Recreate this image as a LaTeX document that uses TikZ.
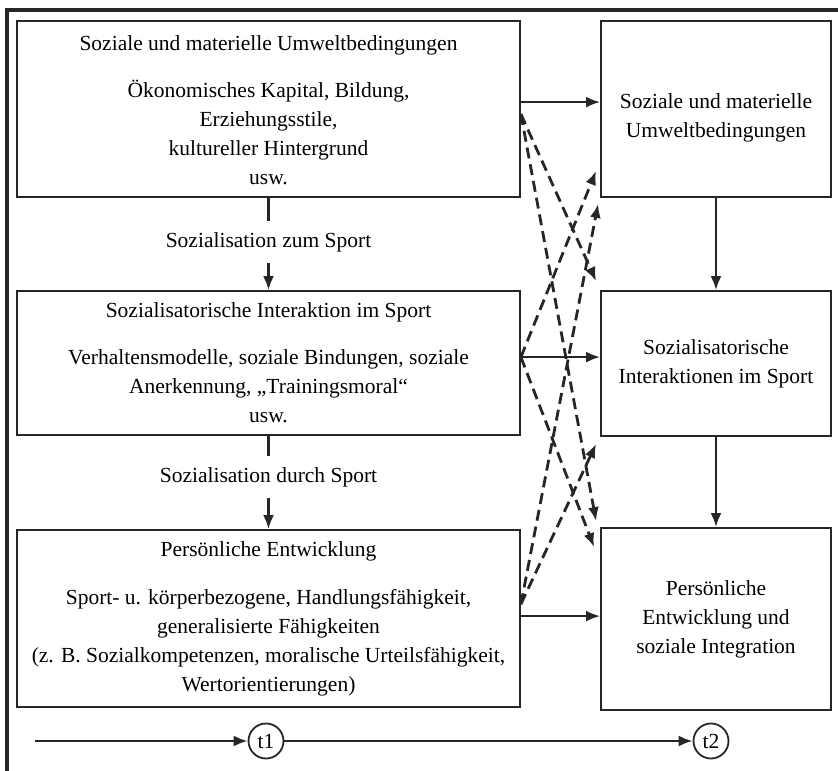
\documentclass[tikz,border=0pt]{standalone}
\usepackage{fontspec}
\setmainfont{Liberation Serif}
\usetikzlibrary{arrows.meta,calc}
\tikzset{
  box/.style={draw=black!85, line width=1.8pt, align=center, inner sep=0pt, fill=none},
  arr/.style={line width=2.5pt, draw=black!85, -{Latex[length=14pt,width=11pt]}},
  plain/.style={line width=2.5pt, draw=black!85},
  dasharr/.style={line width=2.8pt, draw=black!85, dash pattern=on 11pt off 6pt, -{Latex[length=14pt,width=11pt]}},
  lab/.style={inner xsep=2pt, inner ysep=11pt},
  tcirc/.style={circle, draw=black!85, line width=1.8pt, minimum size=35pt, inner sep=0pt}
}
\begin{document}
\begin{tikzpicture}[x=1pt, y=-1pt, font=\fontsize{21.5}{29}\selectfont]
\useasboundingbox (0,0) rectangle (838,771);
\fill[white] (0,0) rectangle (838,771);
% frame
\draw[line width=3.5pt, black!85] (7,771) -- (7,10) -- (838,10);

% left boxes
\node[box, minimum width=503pt, minimum height=176pt] (L1) at (268.5,109)
  {\raisebox{-3pt}[\height][\depth]{\begin{tabular}{@{}c@{}}Soziale und materielle Umweltbedingungen\\[18pt]Ökonomisches Kapital, Bildung,\\Erziehungsstile,\\kultureller Hintergrund\\usw.\end{tabular}}};
\node[box, minimum width=503pt, minimum height=144pt] (L2) at (268.5,363)
  {Sozialisatorische Interaktion im Sport\\[18pt]Verhaltensmodelle, soziale Bindungen, soziale\\Anerkennung, „Trainingsmoral“\\usw.};
\node[box, minimum width=503pt, minimum height=177pt] (L3) at (268.5,618.5)
  {Persönliche Entwicklung\\[19pt]Sport- u. körperbezogene, Handlungsfähigkeit,\\generalisierte Fähigkeiten\\(z. B. Sozialkompetenzen, moralische Urteilsfähigkeit,\\Wertorientierungen)};

% right boxes
\node[box, minimum width=230pt, minimum height=176pt] (R1) at (716,109)
  {\raisebox{-8pt}[\height][\depth]{\begin{tabular}{@{}c@{}}Soziale und materielle\\Umweltbedingungen\end{tabular}}};
\node[box, minimum width=230pt, minimum height=145pt] (R2) at (716,363.5)
  {Sozialisatorische\\Interaktionen im Sport};
\node[box, minimum width=230pt, minimum height=182pt] (R3) at (716,619)
  {Persönliche\\Entwicklung und\\soziale Integration};

% labels between left boxes
\node[lab] (lab1) at (268.5,242) {Sozialisation zum Sport};
\node[lab] (lab2) at (268.5,477) {Sozialisation durch Sport};
\draw[plain] (L1.south) -- (lab1.north);
\draw[arr] (lab1.south) -- (L2.north);
\draw[plain] (L2.south) -- (lab2.north);
\draw[arr] (lab2.south) -- (L3.north);

% right vertical arrows
\draw[arr] (R1.south) -- (R2.north);
\draw[arr] (R2.south) -- (R3.north);

% horizontal solid arrows
\coordinate (h1) at ([yshift=-82pt]L1.north east);
\coordinate (h2) at ([yshift=-67pt]L2.north east);
\coordinate (h3) at ([yshift=-87pt]L3.north east);
\draw[arr] (h1) -- (h1 -| R1.west);
\draw[arr] (h2) -- (h2 -| R2.west);
\draw[arr] (h3) -- (h3 -| R3.west);

% dashed arrows
\coordinate (d1) at ([yshift=-94pt]L1.north east);
\coordinate (d2) at ([yshift=-67pt]L2.north east);
\coordinate (d3) at ([yshift=-75pt]L3.north east);
\draw[dasharr] (d1) -- ([shift={(-4pt,9pt)}]R2.north west);
\draw[dasharr] (d1) -- ([shift={(-4pt,6pt)}]R3.north west);
\draw[dasharr] (d2) -- ([shift={(-4pt,27pt)}]R1.south west);
\draw[dasharr] (d2) -- ([shift={(-6pt,-20pt)}]R3.north west);
\draw[dasharr] (d3) -- ([shift={(-2pt,-6pt)}]R1.south west);
\draw[dasharr] (d3) -- ([shift={(-4pt,-7pt)}]R2.south west);

% timeline
\coordinate (ts) at (35,741);
\node[tcirc] (t1) at (266,741) {t1};
\node[tcirc] (t2) at (711,741) {t2};
\draw[arr] (ts) -- (t1.west);
\draw[arr] (t1.east) -- (t2.west);
\end{tikzpicture}
\end{document}
